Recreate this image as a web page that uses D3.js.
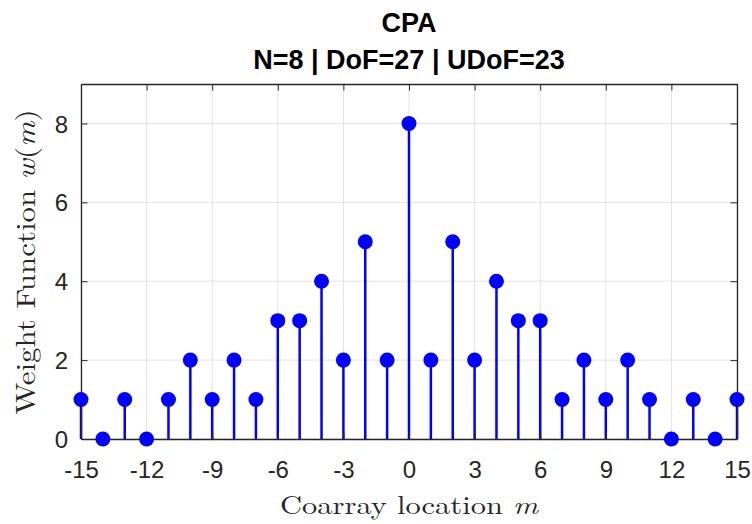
<!DOCTYPE html>
<html>
<head>
<meta charset="utf-8">
<script src="https://cdn.jsdelivr.net/npm/d3@7"></script>
<style>
  html, body { margin: 0; padding: 0; background: #fff; }
  svg { display: block; }
</style>
</head>
<body>
<svg id="chart" width="752" height="524"></svg>
<script>
// Coarray lags and their weight-function values for the CPA (N = 8)
const lags = [-15,-14,-13,-12,-11,-10,-9,-8,-7,-6,-5,-4,-3,-2,-1,0,1,2,3,4,5,6,7,8,9,10,11,12,13,14,15];
const weights = [1,0,1,0,1,2,1,2,1,3,3,4,2,5,2,8,2,5,2,4,3,3,1,2,1,2,1,0,1,0,1];
const xTicks = [-15,-12,-9,-6,-3,0,3,6,9,12,15];
const yTicks = [0,2,4,6,8];
const titleLines = ["CPA", "N=8 | DoF=27 | UDoF=23"];

const svg = d3.select("#chart");
const margin = { left: 81, right: 15, top: 84, bottom: 85 };
const W = 752, H = 524;
const x = d3.scaleLinear().domain([-15, 15]).range([margin.left, W - margin.right]);
const y = d3.scaleLinear().domain([0, 9]).range([H - margin.bottom, margin.top]);

const axisColor = "#262626";
const gridColor = "#e3e3e3";
const tickFont = "'Liberation Sans', Arial, Helvetica, sans-serif";
const labelFont = "'Latin Modern Roman', 'Liberation Serif', 'DejaVu Serif', serif";

// grid
const g = svg.append("g");
g.selectAll("line.gx").data(xTicks).join("line")
  .attr("x1", d => x(d)).attr("x2", d => x(d))
  .attr("y1", y(0)).attr("y2", y(9))
  .attr("stroke", gridColor).attr("stroke-width", 1);
g.selectAll("line.gy").data(yTicks).join("line")
  .attr("x1", x(-15)).attr("x2", x(15))
  .attr("y1", d => y(d)).attr("y2", d => y(d))
  .attr("stroke", gridColor).attr("stroke-width", 1);

// stems
const blue = "#0000ff";
svg.append("g").selectAll("line").data(lags).join("line")
  .attr("x1", d => x(d)).attr("x2", d => x(d))
  .attr("y1", y(0)).attr("y2", (d, i) => y(weights[i]))
  .attr("stroke", blue).attr("stroke-width", 2.5);

// axes: bottom and left with labels, top and right mirrored ticks only
const tickLen = 6.5;
const xAxis = d3.axisBottom(x).tickValues(xTicks).tickSizeInner(-tickLen).tickSizeOuter(0).tickPadding(22);
const yAxis = d3.axisLeft(y).tickValues(yTicks).tickSizeInner(-tickLen).tickSizeOuter(0).tickPadding(13);
const xTop = d3.axisTop(x).tickValues(xTicks).tickSizeInner(-tickLen).tickSizeOuter(0).tickFormat("");
const yRight = d3.axisRight(y).tickValues(yTicks).tickSizeInner(-tickLen).tickSizeOuter(0).tickFormat("");

function styleAxis(sel) {
  sel.select(".domain").attr("stroke", axisColor).attr("stroke-width", 1.3);
  sel.selectAll(".tick line").attr("stroke", axisColor).attr("stroke-width", 1);
  sel.selectAll(".tick text").attr("fill", axisColor)
    .style("font-family", tickFont).style("font-size", "24px");
}
svg.append("g").attr("transform", `translate(0,${y(9)})`).call(xTop).call(styleAxis);
svg.append("g").attr("transform", `translate(${x(15)},0)`).call(yRight).call(styleAxis);
svg.append("g").attr("transform", `translate(0,${y(0)})`).call(xAxis).call(styleAxis)
  .selectAll(".tick text").text(d => d < 0 ? "-" + Math.abs(d) : d);
svg.append("g").attr("transform", `translate(${x(-15)},0)`).call(yAxis).call(styleAxis)
  .selectAll(".tick text").attr("dy", "0.36em");

// markers drawn above the axes
svg.append("g").selectAll("circle").data(lags).join("circle")
  .attr("cx", d => x(d)).attr("cy", (d, i) => y(weights[i]))
  .attr("r", 7.5).attr("fill", blue);

// title
svg.append("g").selectAll("text").data(titleLines).join("text")
  .attr("x", 409).attr("y", (d, i) => 32 + i * 37)
  .attr("text-anchor", "middle")
  .style("font-family", tickFont).style("font-weight", "bold").style("font-size", "27px")
  .attr("fill", "#000").text(d => d);

// axis labels
const xl = svg.append("text").attr("x", 409).attr("y", 514).attr("text-anchor", "middle")
  .attr("textLength", 258).attr("lengthAdjust", "spacingAndGlyphs")
  .style("font-family", labelFont).style("font-size", "26px").attr("fill", axisColor);
xl.append("tspan").text("Coarray location ");
xl.append("tspan").style("font-style", "italic").text("m");

const yl = svg.append("text").attr("transform", `translate(35,262) rotate(-90)`).attr("text-anchor", "middle")
  .attr("textLength", 305).attr("lengthAdjust", "spacingAndGlyphs")
  .style("font-family", labelFont).style("font-size", "27px").attr("fill", axisColor);
yl.append("tspan").text("Weight Function ");
yl.append("tspan").style("font-style", "italic").text("w");
yl.append("tspan").text("(");
yl.append("tspan").style("font-style", "italic").text("m");
yl.append("tspan").text(")");
</script>
</body>
</html>
